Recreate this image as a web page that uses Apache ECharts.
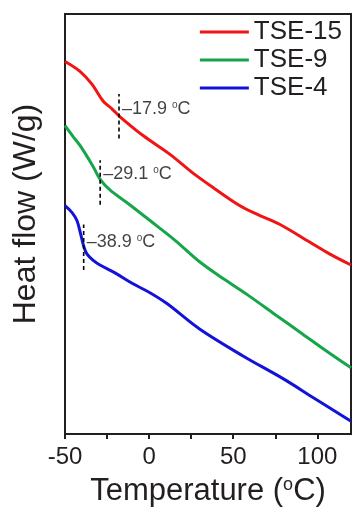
<!DOCTYPE html>
<html><head><meta charset="utf-8">
<script src="https://cdn.jsdelivr.net/npm/echarts@6/dist/echarts.min.js"></script>
<style>html,body{margin:0;padding:0;background:#fff}#c{width:352px;height:512px}</style>
</head><body><div id="c"></div>
<script>
// ---- data (temperature in °C, heat flow in arbitrary units) ----
const seriesNames = ['TSE-15', 'TSE-9', 'TSE-4'];

const tse15Temp = [-50, -41.1, -34.0, -27.4, -22.1, -17.3, -3.6, 12.4, 26.1, 39.2, 54.0, 65.9, 77.8, 95.6, 107.5, 120];
const tse15Flow = [377, 367, 354, 337, 329, 321, 302, 283, 264, 248, 231, 221, 212, 194, 182, 171];

const tse9Temp = [-50, -45.2, -41.1, -33.4, -29.2, -23.3, -13.1, 0.5, 15.4, 30.2, 45.1, 60.0, 74.8, 89.7, 104.5, 120];
const tse9Flow = [312, 301, 292, 271, 258, 247, 234, 216, 196, 174, 156, 139, 121, 103, 85, 67];

const tse4Temp = [-50, -45.8, -42.9, -40.5, -38.7, -36.9, -33.4, -29.2, -20.3, -9.6, 0.5, 10.6, 30.2, 55.8, 79.6, 97.4, 120];
const tse4Flow = [231, 224, 216, 201, 189, 182, 176, 171, 163, 152, 143, 132, 106, 79, 56, 37, 13];

const transitionTemps = [-17.9, -29.1, -38.9];
const transitionText = ['\u201317.9 ', '\u201329.1 ', '\u201338.9 '];
const markerLow = [299, 232, 166];
const markerHigh = [344, 277, 212];
const labelFlow = [329, 263, 194];

const xMajorTicks = [-50, 0, 50, 100];
const xAllTicks = [-50, -25, 0, 25, 50, 75, 100];

// ---- styling ----
const ink = '#231f20';
const colors = ['#f01414', '#16a54a', '#1212d8'];
const FONT = '"Liberation Sans", Arial, Helvetica, sans-serif';

const zip = (a, b) => a.map((v, i) => [v, b[i]]);
const curves = [zip(tse15Temp, tse15Flow), zip(tse9Temp, tse9Flow), zip(tse4Temp, tse4Flow)];

const series = [];
curves.forEach((d, i) => {
  series.push({
    name: seriesNames[i], type: 'line', data: d, smooth: 0.35, symbol: 'none',
    lineStyle: { color: colors[i], width: 3 }, itemStyle: { color: colors[i] }, z: 3
  });
});
transitionTemps.forEach((t, i) => {
  series.push({
    type: 'line', data: [[t, markerLow[i]], [t, markerHigh[i]]], symbol: 'none',
    lineStyle: { color: '#000', width: 1.6, type: [4, 3] }, z: 4, silent: true
  });
});
series.push({
  type: 'scatter', symbolSize: 0, z: 5,
  data: transitionTemps.map((t, i) => [t, labelFlow[i], transitionText[i]]),
  label: {
    show: true, position: 'right', distance: 3,
    formatter: p => '{a|' + p.value[2] + '}{s|o}{a|C}',
    rich: {
      a: { fontSize: 18, color: '#111', fontFamily: FONT },
      s: { fontSize: 10, color: '#111', fontFamily: FONT, verticalAlign: 'top' }
    }
  }
});

const chart = echarts.init(document.getElementById('c'), null, { renderer: 'canvas' });
chart.setOption({
  animation: false,
  backgroundColor: '#fff',
  textStyle: { fontFamily: FONT },
  grid: { left: 65, right: 1, top: 14, bottom: 73, show: true, borderColor: ink, borderWidth: 2, backgroundColor: 'transparent' },
  legend: {
    data: seriesNames, orient: 'vertical', right: 10, top: 18, padding: 0, itemGap: 0,
    icon: 'rect', itemWidth: 49, itemHeight: 3,
    textStyle: { fontSize: 26, color: ink, lineHeight: 28, fontFamily: FONT }
  },
  xAxis: {
    type: 'value', min: -50, max: 120, position: 'bottom',
    axisLine: { onZero: false, lineStyle: { color: ink, width: 2 } },
    axisTick: { customValues: xAllTicks, length: 5, lineStyle: { color: ink, width: 2 } },
    axisLabel: { customValues: xMajorTicks, fontSize: 24, color: ink, margin: 11, fontFamily: FONT },
    splitLine: { show: false },
    name: '{a|Temperature (}{s|o}{a|C)}', nameLocation: 'middle', nameGap: 42,
    nameTextStyle: { rich: {
      a: { fontSize: 31, color: ink, fontFamily: FONT },
      s: { fontSize: 18, color: ink, fontFamily: FONT, verticalAlign: 'top' }
    } }
  },
  yAxis: {
    type: 'value', min: 0, max: 425,
    axisLine: { show: true, onZero: false, lineStyle: { color: ink, width: 2 } },
    axisTick: { show: false }, axisLabel: { show: false }, splitLine: { show: false },
    name: 'Heat flow (W/g)', nameLocation: 'middle', nameRotate: 90, nameGap: 23,
    nameTextStyle: { fontSize: 32, color: ink, fontFamily: FONT, padding: [0, 0, 0, 20] }
  },
  series: series
});
</script></body></html>
